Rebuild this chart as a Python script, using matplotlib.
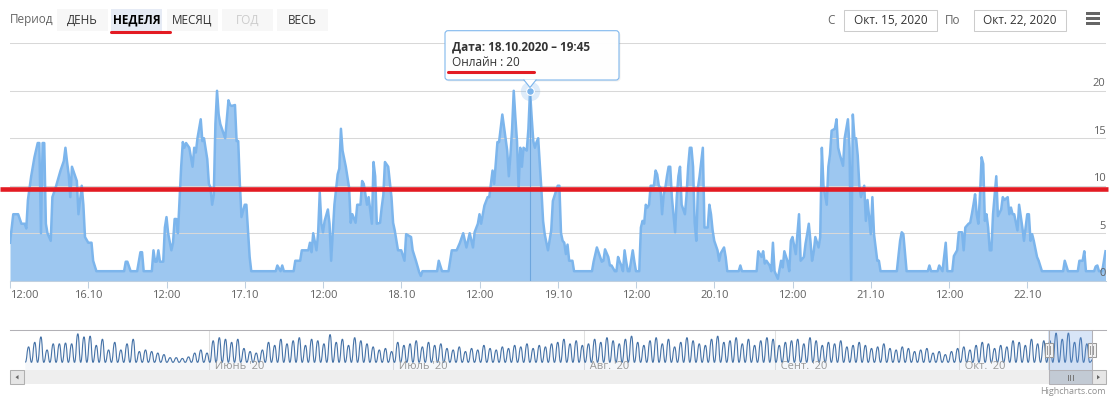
import matplotlib
matplotlib.use('Agg')
import matplotlib.pyplot as plt
from matplotlib.patches import Rectangle, FancyBboxPatch, Polygon, PathPatch
from matplotlib.path import Path
import pandas as pd

plt.rcParams['font.family'] = ['Open Sans', 'DejaVu Sans']

W, H = 1116, 399

# ---- данные основного графика (часы от 15.10.2020 12:00, онлайн) ----
START = pd.Timestamp('2020-10-15 12:00')
HOURS = [
    0, 0.5, 1.25, 1.75, 2.25, 2.5, 2.75, 3.25, 3.75, 4.25, 4.5, 4.75, 5.0, 5.25, 5.5, 5.75,
    6.25, 6.5, 7.0, 7.75, 8.25, 8.5, 8.75, 9.0, 9.25, 9.5, 9.75, 10.25, 10.5, 11.0, 11.25,
    11.5, 12.0, 12.5, 12.75, 13.25, 17.5, 17.75, 18.0, 18.5, 19.5, 19.75, 20.0, 20.25, 20.5,
    21.75, 22.0, 22.25, 22.5, 22.75, 23.0, 23.5, 23.75, 24.0, 24.25, 24.75, 25.0, 25.25,
    25.5, 25.75, 26.25, 26.5, 26.75, 27.0, 27.5, 28.0, 28.25, 28.5, 28.75, 29.25, 29.5,
    29.75, 30.25, 30.5, 30.75, 31.0, 31.25, 31.5, 31.75, 32.0, 32.25, 32.5, 33.0, 33.5,
    33.75, 34.0, 34.5, 34.75, 35.0, 35.25, 35.5, 36.0, 36.25, 36.5, 36.75, 37.0, 40.75,
    41.0, 41.5, 41.75, 42.0, 43.5, 43.75, 44.5, 44.75, 45.75, 46.0, 46.25, 46.5, 47.0,
    47.25, 47.5, 47.75, 48.0, 48.25, 48.75, 49.0, 49.25, 49.5, 49.75, 50.25, 50.5, 50.75,
    51.0, 51.5, 52.0, 52.25, 52.5, 53.0, 53.25, 53.75, 54.0, 54.25, 54.75, 55.0, 55.5,
    55.75, 56.0, 56.25, 56.75, 57.0, 57.25, 57.5, 58.0, 58.5, 58.75, 59.0, 59.5, 60.0,
    60.5, 60.75, 61.5, 61.75, 62.25, 62.75, 63.0, 63.25, 65.5, 65.75, 66.25, 67.25, 67.5,
    67.75, 68.5, 69.0, 69.5, 70.0, 70.5, 71.0, 71.25, 71.75, 72.0, 72.25, 72.75, 73.25,
    73.5, 74.0, 74.25, 74.75, 75.0, 75.5, 76.0, 76.25, 76.5, 76.75, 77.0, 77.25, 77.5,
    77.75, 78.0, 78.25, 78.5, 78.75, 79.25, 79.5, 79.75, 80.0, 80.25, 80.5, 80.75, 81.0,
    81.5, 81.75, 82.0, 82.5, 83.0, 83.25, 84.0, 84.25, 84.5, 84.75, 85.0, 85.25, 85.5,
    85.75, 86.25, 86.5, 89.25, 89.5, 90.0, 90.25, 90.5, 90.75, 91.0, 91.25, 91.75, 92.0,
    92.25, 92.75, 93.0, 93.25, 93.5, 93.75, 94.0, 94.25, 94.5, 94.75, 95.0, 95.5, 95.75,
    96.0, 96.5, 96.75, 97.0, 97.25, 97.5, 97.75, 98.0, 98.25, 98.75, 99.0, 99.25, 99.5,
    99.75, 100.0, 100.25, 100.5, 100.75, 101.0, 101.25, 101.5, 102.0, 102.25, 102.5,
    102.75, 103.0, 103.5, 103.75, 104.0, 104.25, 104.5, 104.75, 105.0, 105.25, 105.5,
    105.75, 106.25, 106.5, 107.0, 107.25, 107.5, 107.75, 108.0, 108.5, 108.75, 109.0,
    109.5, 109.75, 110.0, 111.75, 112.0, 112.25, 114.5, 114.75, 115.25, 115.5, 115.75,
    116.0, 116.5, 116.75, 117.0, 117.25, 117.75, 118.25, 118.5, 118.75, 119.25, 119.5,
    119.75, 120.0, 120.5, 120.75, 121.0, 121.25, 121.75, 122.0, 122.25, 122.5, 122.75,
    123.0, 123.25, 123.5, 124.0, 124.25, 124.5, 124.75, 125.25, 125.5, 125.75, 126.0,
    126.5, 126.75, 127.0, 127.25, 127.75, 128.0, 128.25, 128.5, 128.75, 129.0, 129.25,
    129.5, 129.75, 130.0, 130.25, 130.5, 131.0, 131.25, 131.5, 132.0, 132.25, 132.5,
    133.0, 133.25, 133.5, 136.0, 136.5, 136.75, 137.0, 137.5, 140.75, 141.0, 141.25,
    142.25, 142.5, 143.0, 143.5, 143.75, 144.5, 144.75, 145.25, 145.5, 146.0, 146.25,
    146.5, 147.0, 147.25, 147.5, 147.75, 148.0, 148.25, 148.5, 148.75, 149.0, 149.25,
    149.5, 149.75, 150.0, 150.25, 150.5, 150.75, 151.0, 151.25, 151.5, 152.0, 152.25,
    152.5, 153.0, 153.25, 153.5, 153.75, 154.0, 154.5, 154.75, 155.25, 155.5, 156.0,
    156.25, 156.5, 156.75, 157.0, 157.5, 157.75, 158.25, 161.5, 161.75, 162.25, 163.75,
    164.0, 164.5, 164.75, 165.0, 166.25, 166.5, 166.75, 167.0, 167.5, 168.0,
]
ONLINE = [
    4, 7, 7, 6, 6, 5.5, 8.5, 11, 13, 14.5, 14.5, 5, 14.5, 14.5, 6, 5,
    4.2, 8.8, 9.8, 11.6, 12.6, 14, 12.5, 11.2, 8.8, 12, 11.5, 10.5, 7, 10, 8,
    4.6, 4, 4, 2.1, 1, 1, 2, 2, 1, 1, 2, 3, 3, 1,
    1, 3.2, 2, 2, 3.2, 2, 2, 5.6, 6.7, 5, 3.2, 4, 6.5,
    6.5, 5, 12, 14.6, 14, 14.5, 14, 12, 14, 13.5, 15, 17, 14.7,
    15, 12.8, 10.2, 9.8, 8, 9, 16.5, 20, 17.5, 16.5, 16, 15, 19,
    18.5, 18.4, 18.5, 14.7, 14.7, 10.2, 6.7, 8, 8, 5.3, 2.5, 1, 1,
    1.6, 1, 1.6, 1, 1, 2.1, 2.1, 3.2, 3.2, 4, 3, 5, 3.2,
    5, 9.3, 6, 5.1, 6.3, 7.5, 6, 2.1, 5, 8, 11.2, 11.8, 16,
    13.7, 12, 9.8, 6.1, 7, 6.1, 8, 8, 10.5, 10.2, 8, 8.8, 6,
    12.5, 11, 6, 6.1, 7.7, 9, 12.5, 12, 8.8, 6.1, 5.3, 3.2, 3.2,
    2.1, 4.9, 4.6, 3.2, 2.1, 0.9, 0.5, 1, 1, 2.1, 1, 1, 2.1,
    3.2, 3.2, 4, 5, 3.5, 5, 3.5, 5.1, 6, 7, 6, 7.9, 8.8,
    8.8, 11.6, 10.2, 14.6, 14.6, 17.5, 15, 13.7, 11, 13.3, 16, 20, 17.2,
    14.7, 9.8, 14, 12, 14, 13.7, 16, 20, 17.2, 14.7, 14, 14.6, 15,
    9.5, 6.3, 4.9, 3.2, 5.3, 8.4, 10, 10, 5, 4.2, 4, 2.8, 3.8,
    2.1, 2.1, 1, 1, 2, 3.5, 3, 2.5, 2, 2.1, 3.3, 2.5, 1.6,
    1.6, 1, 1, 2.5, 2, 1.6, 1, 3.2, 2, 1, 1, 3.2, 2,
    1, 1, 5.6, 6.3, 6, 8, 7.7, 8, 10, 10, 11.6, 11.2, 10,
    9.8, 7, 9.1, 9.8, 11, 12, 12, 8.8, 5.1, 8.8, 11,
    12, 8, 7, 9, 12, 14, 14, 12, 6.1, 4.2, 9.8,
    11, 14, 5.6, 5.6, 8, 7, 5.3, 4.2, 3.2, 2.1, 2.9,
    3.5, 2.5, 1, 1, 1.6, 1, 1, 3.1, 2.5, 3.1, 1.8,
    2.1, 1.6, 1, 4, 1, 0.2, 2.1, 1.4, 3.1, 2, 1,
    4.2, 4.6, 2.8, 4.9, 7, 2.1, 2.5, 3.9, 4.9, 6, 4.2,
    2.1, 3, 4.6, 3.5, 4.6, 14, 10, 8, 12, 13.3, 15.8,
    16, 17, 14, 13.3, 12.1, 15, 16, 17, 14, 0, 17.5,
    15, 15, 13.2, 10, 8.8, 10, 6.3, 8.5, 4.9, 8.8, 4.9,
    2.1, 2.1, 1, 1, 4.2, 5.1, 4.9, 1, 1, 1.6, 1,
    1, 1.6, 1, 4, 1, 1, 2.6, 3.2, 5.1, 5.1, 3.2,
    5.6, 6, 6.1, 7, 8, 9.1, 7, 6, 9, 13, 12.3,
    6.3, 7, 5.6, 3.2, 3.2, 7, 9, 11, 6.8, 7.5, 8.8,
    8.5, 8.8, 7, 7.7, 7, 7, 5.3, 8, 5.6, 4.2, 7,
    7, 4.2, 4.9, 4.2, 2.5, 2.1, 1, 1, 2.1, 1, 1,
    2.1, 2.1, 3.1, 1, 1, 1.5, 1.6, 1, 1, 3.1,
]

# ---- навигатор: суточные максимумы по месяцам (со 2 мая) ----
NAV_START = pd.Timestamp('2020-05-02')
NAV_END = pd.Timestamp('2020-10-22 12:00')
NAV_PEAKS_MAY = [11, 14, 17.5, 9, 13, 13, 13.5, 13, 19.5, 17.5, 18, 12, 16, 9, 14,
                 9, 13, 16, 8, 9, 8, 7, 6, 4, 4, 3.5, 4.5, 7, 9, 7]
NAV_PEAKS_JUN = [15, 17, 16, 14, 16, 10, 8, 7, 9, 14, 12, 16, 13, 15, 17,
                 12, 16, 15, 13, 19, 14, 16, 12, 17, 15, 13, 11, 9, 10, 8]
NAV_PEAKS_JUL = [14, 12, 13, 15, 11, 14, 12, 13, 10, 9, 11, 8, 10, 9, 12, 10,
                 9, 11, 10, 12, 11, 13, 10, 12, 11, 13, 14, 16, 13, 15, 12]
NAV_PEAKS_AUG = [13, 16, 14, 17, 15, 13, 16, 18, 14, 12, 15, 17, 13, 16, 11, 14,
                 17, 15, 13, 12, 16, 18, 14, 15, 17, 13, 16, 12, 15, 17, 16]
NAV_PEAKS_SEP = [12, 14, 15, 16, 13, 17, 15, 12, 14, 13, 15, 11, 12, 14, 12,
                 10, 11, 13, 10, 9, 11, 10, 8, 9, 10, 7, 8, 6, 8, 10]
NAV_PEAKS_OCT = [11, 9, 12, 14, 13, 10, 12, 11, 15, 14, 12, 16, 13, 15, 15,
                 20, 16, 20, 14, 17, 13, 3]
NAV_TROUGH = 1
NAV_MONTHS = ["Июнь '20", "Июль '20", "Авг. '20", "Сент. '20", "Окт. '20"]
NAV_MONTH_STARTS = ['2020-06-01', '2020-07-01', '2020-08-01', '2020-09-01', '2020-10-01']

RANGE_BUTTONS = ['ДЕНЬ', 'НЕДЕЛЯ', 'МЕСЯЦ', 'ГОД', 'ВЕСЬ']
SELECTED_BUTTON = 'НЕДЕЛЯ'
DISABLED_BUTTON = 'ГОД'
DATE_FROM = 'Окт. 15, 2020'
DATE_TO = 'Окт. 22, 2020'
TOOLTIP_TIME = pd.Timestamp('2020-10-18 19:45')
TOOLTIP_VALUE = 20

SERIES_COLOR = '#7cb5ec'
NAV_COLOR = '#4572a7'
RED = '#e31b23'


def px_axes(fig, left, top, right, bottom):
    """Оси по пиксельной рамке (от левого верхнего угла картинки)."""
    return fig.add_axes([left / W, 1 - bottom / H, (right - left) / W, (bottom - top) / H])


def spline_path(xs, ys, base=None):
    """Сглаженная линия (как areaspline в Highcharts): горизонтальные касательные в узлах."""
    verts = [(xs[0], ys[0])]
    codes = [Path.MOVETO]
    for i in range(1, len(xs)):
        dx = xs[i] - xs[i - 1]
        verts += [(xs[i - 1] + dx / 2, ys[i - 1]), (xs[i] - dx / 2, ys[i]), (xs[i], ys[i])]
        codes += [Path.CURVE4] * 3
    if base is not None:
        verts += [(xs[-1], base), (xs[0], base), (xs[0], ys[0])]
        codes += [Path.LINETO, Path.LINETO, Path.CLOSEPOLY]
    return Path(verts, codes)


fig = plt.figure(figsize=(W / 100, H / 100), dpi=100)

# ---------------- основной график ----------------
ax = px_axes(fig, 10, 43.3, 1105.5, 280.7)
ax.fill_between(HOURS, ONLINE, 0, color=SERIES_COLOR, alpha=0.75, lw=0)
ax.plot(HOURS, ONLINE, color=SERIES_COLOR, lw=1.8, solid_joinstyle='round')
ax.set_xlim(0, 168)
ax.set_ylim(0, 25)

ax.set_yticks([0, 5, 10, 15, 20, 25])
ax.yaxis.grid(True, color='#d8d8d8', lw=0.75)
ax.tick_params(axis='y', left=False, labelleft=False)
for v in [0, 5, 10, 15, 20]:
    ax.annotate(str(v), xy=(1, v), xycoords=ax.get_yaxis_transform(),
                xytext=(0, 1.2), textcoords='offset points',
                ha='right', va='bottom', fontsize=8, color='#606060')

ticks = list(range(0, 157, 12))
labels = []
for t in ticks:
    ts = START + pd.Timedelta(hours=t)
    labels.append(ts.strftime('%H:%M') if ts.hour == 12 else ts.strftime('%d.%m'))
ax.set_xticks(ticks)
ax.set_xticklabels(labels)
ax.tick_params(axis='x', direction='out', length=5, width=0.75, color='#c0d0e0',
               labelsize=8, labelcolor='#606060', pad=2)
ax.get_xticklabels()[0].set_ha('left')
for s in ['top', 'left', 'right']:
    ax.spines[s].set_visible(False)
ax.spines['bottom'].set_color('#c0d0e0')
ax.spines['bottom'].set_linewidth(0.75)

# перекрестие и точка под подсказкой
tip_h = (TOOLTIP_TIME - START).total_seconds() / 3600
ax.vlines(tip_h, 0, TOOLTIP_VALUE, color='#6da6de', lw=0.8)
ax.plot(tip_h, TOOLTIP_VALUE, 'o', ms=14, color=SERIES_COLOR, alpha=0.25, mew=0, clip_on=False)
ax.plot(tip_h, TOOLTIP_VALUE, 'o', ms=5.5, mfc=SERIES_COLOR, mec='white', mew=0.8, clip_on=False)

# ---------------- навигатор ----------------
nav = px_axes(fig, 24, 330, 1091.5, 370)
peaks = NAV_PEAKS_MAY + NAV_PEAKS_JUN + NAV_PEAKS_JUL + NAV_PEAKS_AUG + NAV_PEAKS_SEP + NAV_PEAKS_OCT
nav_x, nav_y = [], []
for i, p in enumerate(peaks):
    nav_x += [i + 5 / 24, i + 18 / 24]
    nav_y += [NAV_TROUGH, p]
nav_len = (NAV_END - NAV_START).total_seconds() / 86400
nav.add_patch(PathPatch(spline_path(nav_x, nav_y, base=-4), fc=NAV_COLOR, alpha=0.05, lw=0))
nav.add_patch(PathPatch(spline_path(nav_x, nav_y), fc='none', ec=NAV_COLOR, lw=0.8))
nav.set_xlim(0, nav_len)
nav.set_ylim(-4, 22)
nav.axis('off')
for name, ms in zip(NAV_MONTHS, NAV_MONTH_STARTS):
    d = (pd.Timestamp(ms) - NAV_START).days
    nav.axvline(d, color='#e0e0e0', lw=0.75, zorder=0)
    nav.text(d, -1.5, '  ' + name, ha='left', va='center', fontsize=8, color='#999999')
sel0 = (START - NAV_START).total_seconds() / 86400
nav.axvspan(sel0, nav_len, color=(0.4, 0.6, 0.88), alpha=0.25, lw=0)

# ---------------- оверлей: панель, подсказка, пометки ----------------
ov = fig.add_axes([0, 0, 1, 1])
ov.set_xlim(0, W)
ov.set_ylim(H, 0)
ov.axis('off')
ov.patch.set_alpha(0)
ov.set_zorder(10)

ov.text(10, 20, 'Период', ha='left', va='center', fontsize=8.5, color='#666666')
btn_x = [57, 111, 167, 222, 277]
for x0, name in zip(btn_x, RANGE_BUTTONS):
    sel = name == SELECTED_BUTTON
    ov.add_patch(Rectangle((x0, 9.3), 51, 21.4, fc='#e6ebf5' if sel else '#f7f7f7', lw=0))
    color = '#000000' if sel else ('#cccccc' if name == DISABLED_BUTTON else '#333333')
    ov.text(x0 + 25.5, 20, name, ha='center', va='center', fontsize=8.5, color=color,
            fontweight='bold' if sel else 'normal')
ov.plot([111, 170], [31.7, 31.7], color=RED, lw=2.2, solid_capstyle='round')

ov.text(831, 20, 'С', ha='center', va='center', fontsize=8.5, color='#666666')
ov.add_patch(Rectangle((844, 9.5), 93, 21.5, fc='white', ec='#cccccc', lw=0.75))
ov.text(890.5, 20, DATE_FROM, ha='center', va='center', fontsize=8.5, color='#333333')
ov.text(953, 20, 'По', ha='center', va='center', fontsize=8.5, color='#666666')
ov.add_patch(Rectangle((974, 9.5), 92, 21.5, fc='white', ec='#cccccc', lw=0.75))
ov.text(1020, 20, DATE_TO, ha='center', va='center', fontsize=8.5, color='#333333')
for yy in [13.5, 18.5, 23.5]:
    ov.add_patch(Rectangle((1086, yy - 1.3), 14, 2.6, fc='#666666', lw=0))

# красная линия уровня
ov.plot([0, 1108], [189.3, 189.3], color=RED, lw=3.3, solid_capstyle='butt')

# подсказка
ov.add_patch(FancyBboxPatch((446.5, 32.2), 174, 49.3, boxstyle='round,pad=0,rounding_size=3',
                            fc='black', alpha=0.06, lw=0))
ov.add_patch(FancyBboxPatch((445, 30.7), 174, 49.3, boxstyle='round,pad=0,rounding_size=3',
                            fc='white', ec=SERIES_COLOR, lw=0.8, alpha=0.97))
ov.add_patch(Polygon([(524, 79.5), (530, 87.5), (536, 79.5)], closed=True, fc='white', lw=0))
ov.plot([524, 530, 536], [80, 87.5, 80], color=SERIES_COLOR, lw=0.8)
ov.text(452.5, 47, 'Дата: ' + TOOLTIP_TIME.strftime('%d.%m.%Y – %H:%M'), ha='left', va='center',
        fontsize=8.5, fontweight='bold', color='#333333')
ov.text(452.5, 62, 'Онлайн : %d' % TOOLTIP_VALUE, ha='left', va='center', fontsize=8.5,
        color='#333333')
ov.plot([448, 534], [71.7, 71.7], color=RED, lw=2.2, solid_capstyle='round')

# рамка навигатора и полоса прокрутки
ov.plot([10, 1105.5], [330, 330], color='#b2b1b6', lw=0.75)
ov.add_patch(Rectangle((24, 370), 1067.5, 14.3, fc='#eeeeee', lw=0))
for bx in [10, 1091.5]:
    ov.add_patch(Rectangle((bx, 370), 14, 14.3, fc='#e6e6e6', ec='#b0b0b0', lw=0.75))
ov.add_patch(Polygon([(15.5, 377.2), (18.5, 375), (18.5, 379.4)], closed=True, fc='#666666', lw=0))
ov.add_patch(Polygon([(1100, 377.2), (1097, 375), (1097, 379.4)], closed=True, fc='#666666', lw=0))
ov.add_patch(Rectangle((1048.7, 370), 42.8, 14.3, fc='#c2cad4', ec='#b2b1b6', lw=0.75))
for gx in [1067.5, 1070, 1072.5]:
    ov.plot([gx, gx], [374.5, 379.5], color='#777777', lw=0.7)
for hx in [1048.7, 1091.5]:
    ov.plot([hx, hx], [330, 370], color='#b2b1b6', lw=0.75)
    ov.add_patch(Rectangle((hx - 4, 342.7), 8, 14.6, fc='#f2f2f2', ec='#999999', lw=0.75))
    for gx in [hx - 1.3, hx + 1.3]:
        ov.plot([gx, gx], [346, 354], color='#999999', lw=0.7)

ov.text(1105.5, 391, 'Highcharts.com', ha='right', va='center', fontsize=6.5, color='#909090')

fig.savefig('out.png', dpi=100)
